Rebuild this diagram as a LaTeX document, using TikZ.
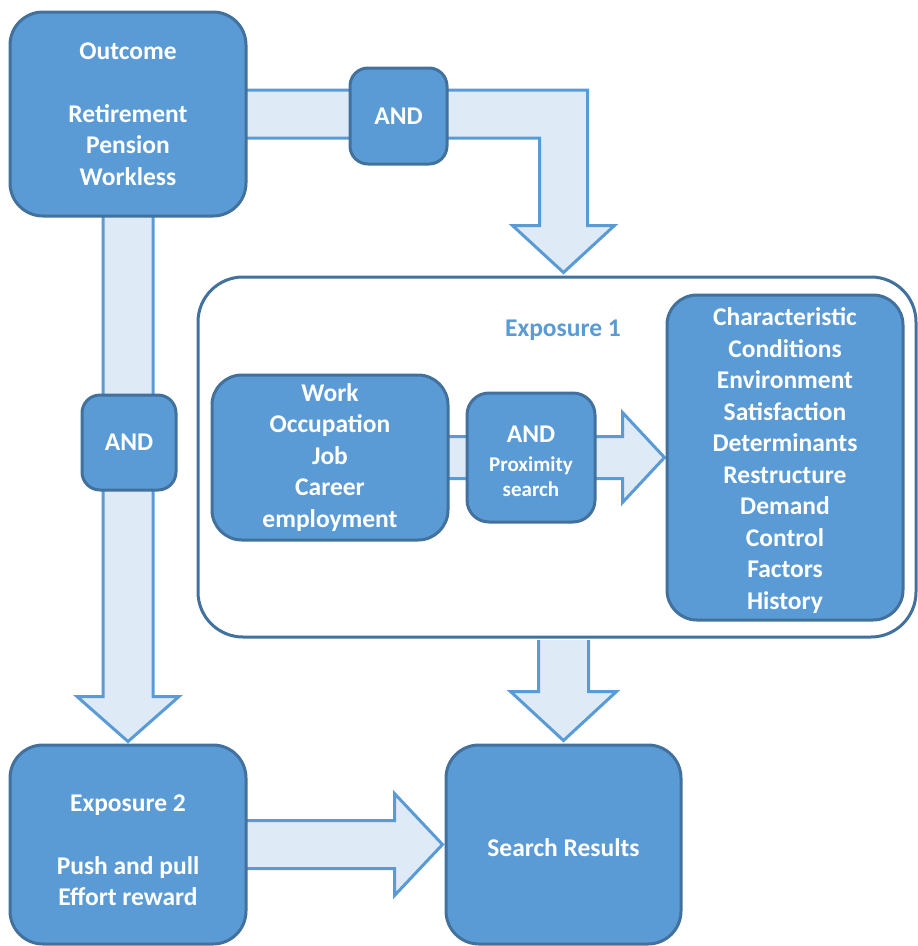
\documentclass[tikz,border=0pt]{standalone}
\usepackage{fontspec}
\setmainfont{Carlito}
\usetikzlibrary{calc}
\definecolor{boxfill}{HTML}{5B9BD5}
\definecolor{boxline}{HTML}{41719C}
\definecolor{arrfill}{HTML}{DEEBF7}
\pgfdeclarelayer{back}\pgfdeclarelayer{mid}\pgfsetlayers{back,mid,main}
\newcommand\bigtext{\fontsize{25.5pt}{31.5pt}\selectfont\bfseries}
\newcommand\smalltext{\fontsize{21pt}{25pt}\selectfont\bfseries}
\tikzset{
 box/.style={draw=boxline, fill=boxfill, line width=3pt, text=white, align=center, inner sep=0pt, font=\bigtext},
 blk/.style={draw=boxfill, fill=arrfill, line width=3pt, line join=miter},
 frame/.style={draw=boxline, fill=white, line width=3pt, inner sep=0pt, rounded corners=45pt},
}
\begin{document}
\begin{tikzpicture}[x=1pt,y=1pt]
\useasboundingbox (0,0) rectangle (918,-946);
% boxes
\node[box, minimum width=236pt, minimum height=204pt, rounded corners=33pt] (outcome) at (128,-114)
  {Outcome\\~\\Retirement\\Pension\\Workless};
\node[box, minimum width=97pt, minimum height=96pt, rounded corners=18pt] (and1) at (398.5,-116) {AND};
\node[box, minimum width=94pt, minimum height=95pt, rounded corners=18pt] (and2) at (129,-442.5) {AND};
\begin{pgfonlayer}{back}
\node[frame, minimum width=718pt, minimum height=360pt] (exp1) at (557,-457) {};
\end{pgfonlayer}
\node[text=boxfill, font=\bigtext] (exp1label) at (563,-330) {Exposure 1};
\node[box, minimum width=236pt, minimum height=165pt, rounded corners=30pt] (work) at (330,-457.5)
  {Work\\Occupation\\Job\\Career\\employment};
\node[box, minimum width=128pt, minimum height=129pt, rounded corners=22pt] (and3) at (531,-457.5)
  {\mbox{}\\[-7.5pt]AND\\[-3pt]{\smalltext Proximity}\\[-6.5pt]{\smalltext search}};
\node[box, minimum width=236pt, minimum height=325pt, rounded corners=30pt] (char) at (785,-457.5)
  {\mbox{}\\[-7.5pt]Characteristic\\Conditions\\Environment\\Satisfaction\\Determinants\\Restructure\\Demand\\Control\\Factors\\History};
\node[box, minimum width=236pt, minimum height=199pt, rounded corners=33pt] (exp2) at (128,-844.5)
  {\mbox{}\\[-3.5pt]Exposure 2\\~\\Push and pull\\Effort reward};
\node[box, minimum width=235pt, minimum height=199pt, rounded corners=33pt] (search) at (563.5,-844.5)
  {\mbox{}\\[-7.5pt]Search Results};
% block arrows
\begin{pgfonlayer}{mid}
\coordinate (t1) at ($(search.north |- exp1.north)+(0,3)$);
\filldraw[blk] ($(outcome.east)+(-3,24)$) -- ($(t1 |- outcome.east)+(24,24)$) -- ($(t1)+(24,47)$)
  -- ($(t1)+(51,47)$) -- (t1) -- ($(t1)+(-51,47)$) -- ($(t1)+(-24,47)$)
  -- ($(t1 |- outcome.east)+(-24,-24)$) -- ($(outcome.east)+(-3,-24)$);
\filldraw[blk] ([xshift=-25pt,yshift=3pt]outcome.south) -- ([xshift=-25pt,yshift=47pt]exp2.north)
  -- ([xshift=-51pt,yshift=47pt]exp2.north) -- ([yshift=2pt]exp2.north)
  -- ([xshift=51pt,yshift=47pt]exp2.north) -- ([xshift=25pt,yshift=47pt]exp2.north)
  -- ([xshift=25pt,yshift=3pt]outcome.south);
\filldraw[blk] ([xshift=-3pt,yshift=21pt]work.east) -- ([xshift=-43pt,yshift=21pt]char.west)
  -- ([xshift=-43pt,yshift=45pt]char.west) -- ([xshift=-1pt]char.west)
  -- ([xshift=-43pt,yshift=-45pt]char.west) -- ([xshift=-43pt,yshift=-21pt]char.west)
  -- ([xshift=-3pt,yshift=-21pt]work.east);
\filldraw[blk] ($(search.north |- exp1.south)+(-25,-1.5)$) -- ($(search.north)+(-25,52)$)
  -- ($(search.north)+(-53,52)$) -- ($(search.north)+(0,3)$) -- ($(search.north)+(53,52)$)
  -- ($(search.north)+(25,52)$) -- ($(search.north |- exp1.south)+(25,-1.5)$);
\filldraw[blk] ([xshift=-3pt,yshift=24pt]exp2.east) -- ([xshift=-50pt,yshift=24pt]search.west)
  -- ([xshift=-50pt,yshift=51pt]search.west) -- ([xshift=-2pt]search.west)
  -- ([xshift=-50pt,yshift=-51pt]search.west) -- ([xshift=-50pt,yshift=-24pt]search.west)
  -- ([xshift=-3pt,yshift=-24pt]exp2.east);
\end{pgfonlayer}
\end{tikzpicture}
\end{document}
